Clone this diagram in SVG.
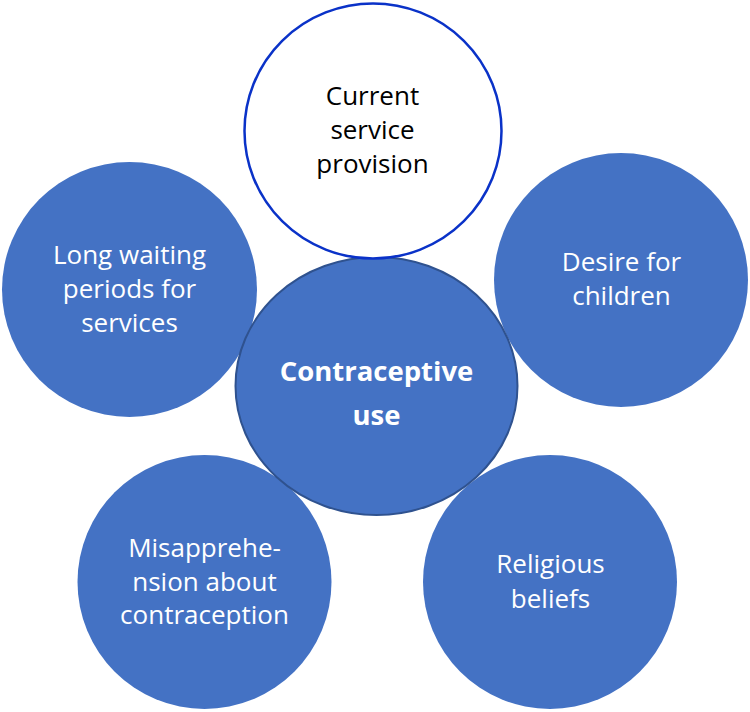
<svg xmlns="http://www.w3.org/2000/svg" width="750" height="712" viewBox="0 0 750 712">
<style>
.sat{fill:#4472C4;}
.lbl{font-family:"Open Sans","Liberation Sans",sans-serif;font-size:26px;fill:#ffffff;text-anchor:middle;}
.dark{fill:#000000;}
.bold{font-weight:bold;font-size:27.5px;}
</style>
<rect width="750" height="712" fill="#ffffff"/>
<g id="connectors"></g>
<g id="node-long-waiting">
<circle class="sat" cx="129.5" cy="289.5" r="127.5"/>
<text class="lbl" x="129.5" y="264">Long waiting</text>
<text class="lbl" x="129.5" y="298">periods for</text>
<text class="lbl" x="129.5" y="332">services</text>
</g>
<g id="node-desire">
<circle class="sat" cx="621" cy="280" r="127"/>
<text class="lbl" x="621.5" y="271">Desire for</text>
<text class="lbl" x="621.5" y="305">children</text>
</g>
<g id="node-misapprehension">
<circle class="sat" cx="204.5" cy="582" r="127"/>
<text class="lbl" x="204.5" y="557">Misapprehe-</text>
<text class="lbl" x="204.5" y="591">nsion about</text>
<text class="lbl" x="204.5" y="624">contraception</text>
</g>
<g id="node-religious">
<circle class="sat" cx="550" cy="582" r="127"/>
<text class="lbl" x="550.5" y="573">Religious</text>
<text class="lbl" x="550.5" y="608">beliefs</text>
</g>
<g id="node-contraceptive">
<ellipse cx="376.5" cy="386" rx="141" ry="129" fill="#4472C4" stroke="#2F528F" stroke-width="2"/>
<text class="lbl bold" x="376.5" y="381">Contraceptive</text>
<text class="lbl bold" x="376.5" y="425">use</text>
</g>
<g id="node-current-service">
<ellipse cx="373" cy="131" rx="128.5" ry="127.5" fill="#ffffff" stroke="#0A32C8" stroke-width="2.5"/>
<text class="lbl dark" x="372.5" y="105">Current</text>
<text class="lbl dark" x="372.5" y="139">service</text>
<text class="lbl dark" x="372.5" y="173">provision</text>
</g>
</svg>
